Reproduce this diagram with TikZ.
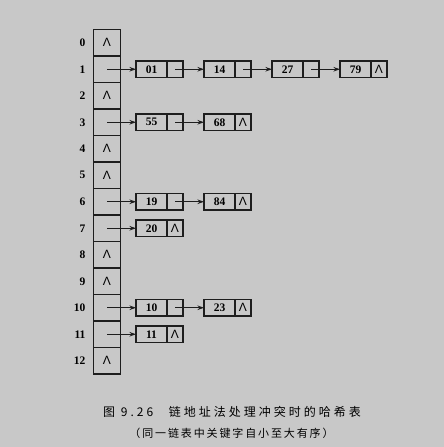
\documentclass[tikz,border=0pt]{standalone}
\usepackage{fontspec}
\setmainfont{Liberation Serif}
\newfontfamily\nilfont{Liberation Sans}
\newfontfamily\cjkwide[LetterSpace=25]{Noto Sans CJK SC}
\newfontfamily\cjknarrow[LetterSpace=17]{Noto Sans CJK SC}
\usetikzlibrary{arrows.meta, positioning}
\definecolor{paper}{RGB}{200,200,200}
\definecolor{ink}{RGB}{30,30,30}
\newcommand{\nil}{{\nilfont\fontsize{12}{12}\selectfont Λ}}

\begin{document}
\begin{tikzpicture}[x=1pt, y=-1pt, >={Stealth[length=6.5pt, width=4.5pt]},
  cell/.style={draw=ink, line width=1.2pt, minimum width=27pt, minimum height=26.5pt, inner sep=0pt, outer sep=0pt},
  key/.style={draw=ink, line width=1.1pt, minimum width=31pt, minimum height=16.5pt, inner sep=0pt, outer sep=0pt,
    font=\bfseries\fontsize{11.5}{11.5}\selectfont},
  ptr/.style={key, minimum width=16pt},
  idx/.style={anchor=east, font=\bfseries\fontsize{11.5}{11.5}\selectfont},
  link/.style={->, draw=ink, line width=1pt}]
  \fill[paper] (0,0) rectangle (444,447);
  % hash table 0..12
  \foreach \i in {0,...,12} {
    \node[cell] (c\i) at (107, 42.75+26.5*\i) {};
    \node[idx] (i\i) at (89, 42.75+26.5*\i) {\i};
  }
  \foreach \i in {0,2,4,5,8,9,12}
    \node (n\i) at (c\i) {\nil};
  % chained lists
  \foreach \r/\n/\k in {1/1/01, 1/2/14, 1/3/27, 1/4/79, 3/1/55, 3/2/68, 6/1/19, 6/2/84,
                        7/1/20, 10/1/10, 10/2/23, 11/1/11} {
    \node[key] (k\r-\n) at (83.5+68*\n, 42.75+26.5*\r) {\k};
    \node[ptr, right=0pt of k\r-\n] (p\r-\n) {};
  }
  \foreach \r in {1,3,6,7,10,11}
    \draw[link] (c\r.center) -- (k\r-1.west);
  \foreach \r/\n/\m in {1/1/2, 1/2/3, 1/3/4, 3/1/2, 6/1/2, 10/1/2}
    \draw[link] (p\r-\n.center) -- (k\r-\m.west);
  \foreach \r/\n in {1/4, 3/2, 6/2, 7/1, 10/2, 11/1}
    \node (e\r-\n) at (p\r-\n) {\nil};
  % caption
  \node[anchor=west, inner sep=0pt, font=\cjkwide\fontsize{12}{12}\selectfont] (cap) at (103, 411.7)
    {图 9.26\hspace{1.3em}链地址法处理冲突时的哈希表};
  \node[font=\cjknarrow\fontsize{11}{11}\selectfont] (note) at (231.5, 433)
    {（同一链表中关键字自小至大有序）};
\end{tikzpicture}
\end{document}
